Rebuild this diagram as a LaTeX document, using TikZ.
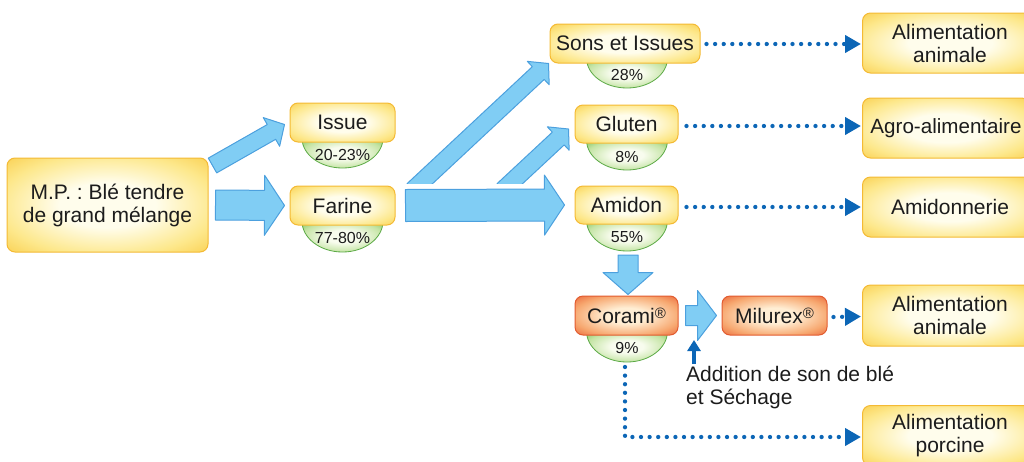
\documentclass[tikz,border=0pt]{standalone}
\usepackage{fontspec}
\setmainfont{Liberation Sans}
\usetikzlibrary{calc,arrows.meta}
\frenchspacing

\definecolor{yin}{RGB}{255,253,236}
\definecolor{ymid}{RGB}{253,232,140}
\definecolor{yout}{RGB}{249,204,72}
\definecolor{ydraw}{RGB}{244,186,52}
\definecolor{oin}{RGB}{255,238,212}
\definecolor{omid}{RGB}{247,168,112}
\definecolor{oout}{RGB}{234,100,56}
\definecolor{odraw}{RGB}{226,92,48}
\definecolor{gin}{RGB}{248,252,238}
\definecolor{gmid}{RGB}{196,228,164}
\definecolor{gout}{RGB}{108,186,76}
\definecolor{gdraw}{RGB}{92,170,70}
\definecolor{bfill}{RGB}{128,205,244}
\definecolor{bdraw}{RGB}{76,160,222}
\definecolor{dotblue}{RGB}{12,102,182}
\definecolor{txt}{RGB}{28,28,28}

\pgfdeclareradialshading{yshade}{\pgfpoint{0bp}{0bp}}{color(0bp)=(yin); color(12bp)=(yin); color(27bp)=(ymid); color(38bp)=(yout); color(50bp)=(yout)}
\pgfdeclareradialshading{oshade}{\pgfpoint{0bp}{0bp}}{color(0bp)=(oin); color(10bp)=(oin); color(26bp)=(omid); color(37bp)=(oout); color(50bp)=(oout)}
\pgfdeclareradialshading{gshade}{\pgfpoint{0bp}{0bp}}{color(0bp)=(gin); color(10bp)=(gin); color(25bp)=(gmid); color(38bp)=(gout); color(50bp)=(gout)}

\tikzset{
  ybox/.style={rounded corners=8pt, draw=ydraw, line width=1pt, shading=yshade,
    font=\fontsize{21}{23}\selectfont, text=txt, align=center, inner sep=0pt},
  obox/.style={ybox, draw=odraw, shading=oshade},
  cupfill/.style={draw=gdraw, line width=0.8pt, shading=gshade},
  pct/.style={font=\fontsize{16}{18}\selectfont, text=txt, inner sep=0pt},
  barrow/.style={fill=bfill, draw=bdraw, line width=1pt, line join=round},
  dotarrow/.style={draw=dotblue, line width=4.3pt, line cap=round, dash pattern=on 0pt off 8.6pt,
    -{Triangle[length=16pt,width=17pt]}},
  lbl/.style={font=\fontsize{21}{23}\selectfont, text=txt, align=left, inner sep=0pt}
}

\newcommand\reg{\raisebox{5pt}{\fontsize{15}{15}\selectfont ®}}
\newcommand\pctcup[5]{% name, cx, ytop, depth, text
  \path[cupfill] (#2-40.5,#3) arc[start angle=180,end angle=0,x radius=40.5,y radius=#4] -- cycle;
  \node[pct] (#1) at (#2,#3+#4*0.5+1.5) {#5};
  \coordinate (#1-b) at (#2,#3+#4);
}
\newcommand\blockarrow[5]{% from, to, half shaft, half head, head length
  \coordinate (ba-h) at ($(#2)!#5!(#1)$);
  \path[barrow] ($(#1)!#3!90:(#2)$) -- ($(ba-h)!#3!90:(#2)$) -- ($(ba-h)!#4!90:(#2)$) -- (#2)
    -- ($(ba-h)!#4!-90:(#2)$) -- ($(ba-h)!#3!-90:(#2)$) -- ($(#1)!#3!-90:(#2)$) -- cycle;
}

\begin{document}
\begin{tikzpicture}[x=1pt,y=-1pt]
\useasboundingbox (0,0) rectangle (1024,461);
\clip (0,0) rectangle (1024,461);

% green cups (drawn under the boxes)
\pctcup{issuep}{342.5}{138}{30}{20-23\%}
\pctcup{farinep}{342.5}{221}{31}{77-80\%}
\pctcup{sonsp}{627}{58}{30}{28\%}
\pctcup{glutenp}{627}{140}{30}{8\%}
\pctcup{amidonp}{627}{220}{31}{55\%}
\pctcup{coramip}{627}{331}{31}{9\%}

% boxes
\node[ybox, minimum width=201pt, minimum height=94pt] (mp) at (107.5,205)
  {\fontsize{21}{24}\selectfont M.P. : Blé tendre\\de grand mélange};
\node[ybox, minimum width=105pt, minimum height=39pt] (issue) at (342.5,122.5) {Issue};
\node[ybox, minimum width=105pt, minimum height=39pt] (farine) at (342.5,205.5) {Farine};
\node[ybox, minimum width=150pt, minimum height=39pt] (sons) at (625,43.5) {Sons et Issues};
\node[ybox, minimum width=103pt, minimum height=38pt] (gluten) at (626.5,124) {Gluten};
\node[ybox, minimum width=103pt, minimum height=38pt] (amidon) at (626.5,205) {Amidon};
\node[obox, minimum width=103pt, minimum height=39pt] (corami) at (626.5,315.5) {Corami\reg};
\node[obox, minimum width=105pt, minimum height=39pt] (milurex) at (774.5,315.5) {Milurex\reg};

\node[ybox, minimum width=175pt, minimum height=60pt] (alim1) at (950,43) {Alimentation\\animale};
\node[ybox, minimum width=167pt, minimum height=60pt] (agro) at (946,128) {\fontsize{20.6}{23}\selectfont Agro-alimentaire};
\node[ybox, minimum width=175pt, minimum height=60pt] (amidonnerie) at (950,207) {Amidonnerie};
\node[ybox, minimum width=175pt, minimum height=61pt] (alim2) at (950,315.5) {Alimentation\\animale};
\node[ybox, minimum width=175pt, minimum height=60pt] (porcine) at (950,435.5) {Alimentation\\porcine};

\node[lbl, anchor=north west] (addition) at (686,366) {Addition de son de blé\\et Séchage};

% block arrows
\coordinate (a1s) at ($(mp.north east)+(4,8)$);
\coordinate (a1e) at ($(issue.west)+(-5,2)$);
\blockarrow{a1s}{a1e}{8.5pt}{16.5pt}{15pt}
\coordinate (a2s) at ($(mp.east)+(7,0)$);
\coordinate (a2e) at ($(farine.west)+(-5,0)$);
\blockarrow{a2s}{a2e}{15pt}{30pt}{20pt}
\coordinate (a3s) at ($(farine.east)+(10,0)$);
\coordinate (a3e) at ($(amidon.west)+(-10,0)$);
\blockarrow{a3s}{a3e}{16pt}{30pt}{20pt}
\begin{scope}
  \clip (0,0) rectangle (1024,183);
  \coordinate (a4s) at (413,190);
  \coordinate (a4e) at ($(sons.south west)+(-1,0)$);
  \blockarrow{a4s}{a4e}{8.7pt}{16pt}{14pt}
  \coordinate (a5s) at (503,190);
  \coordinate (a5e) at ($(gluten.west)+(-6,5)$);
  \blockarrow{a5s}{a5e}{8.7pt}{16pt}{14pt}
\end{scope}
\coordinate (a6s) at ($(amidonp-b)+(1,4)$);
\coordinate (a6e) at ($(corami.north)+(1.5,-1)$);
\blockarrow{a6s}{a6e}{10pt}{25pt}{22pt}
\coordinate (a7s) at ($(corami.east)+(7,0)$);
\coordinate (a7e) at ($(milurex.west)+(-5,0)$);
\blockarrow{a7s}{a7e}{10pt}{25pt}{19pt}

% small dark blue arrow
\coordinate (upbot) at (694,364);
\coordinate (uptop) at (694,340);
\draw[dotblue, line width=4pt, -{Triangle[length=11pt,width=13pt]}] (upbot) -- (uptop);

% dotted arrows
\draw[dotarrow] ($(sons.east)+(6,0.5)$) -- ($(alim1.west)+(-1,1)$);
\draw[dotarrow] ($(gluten.east)+(8,2)$) -- ($(agro.west)+(-1,-2)$);
\draw[dotarrow] ($(amidon.east)+(8,2)$) -- ($(amidonnerie.west)+(-1,0)$);
\draw[dotarrow] ($(milurex.east)+(6,1.5)$) -- ($(alim2.west)+(-1,1)$);
\coordinate (cdot) at ($(coramip-b)+(-2,5)$);
\draw[dotarrow] (cdot) |- ($(porcine.west)+(-1,1.5)$);
\end{tikzpicture}
\end{document}
